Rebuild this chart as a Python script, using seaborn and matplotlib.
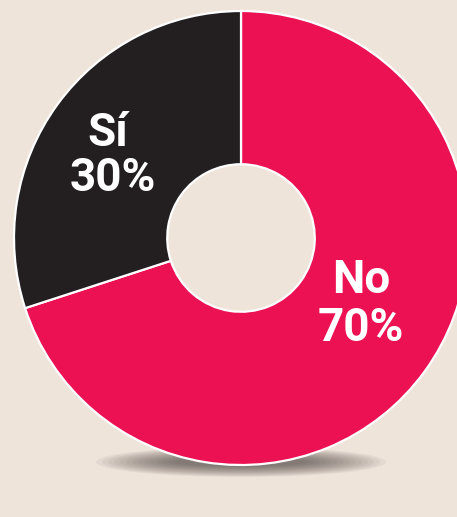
import matplotlib.pyplot as plt
import matplotlib.patches as mpatches
import seaborn as sns

# data
labels = ["No", "Sí"]
shares = [70, 30]
colors = ["#EC1153", "#231F20"]
bg = "#EFE4DA"

sns.set_theme(style="white")
plt.rcParams['font.family'] = ['Roboto', 'DejaVu Sans']

W, H = 457, 517
fig = plt.figure(figsize=(W / 100, H / 100), dpi=100, facecolor=bg)
ax = fig.add_axes([0, 0, 1, 1])
ax.set_facecolor(bg)
ax.set_xlim(0, W)
ax.set_ylim(0, H)
ax.set_aspect("equal")
ax.axis("off")

cx, cy, r = 241, H - 238, 227

# soft shadow under the ring
for i in range(14):
    ax.add_patch(mpatches.Ellipse((cx, H - 462), 290 - i * 12, 30 - i * 1.6,
                                  color="#3a3430", alpha=0.06, lw=0, zorder=1))

wedges, _ = ax.pie(shares, colors=colors, startangle=90, counterclock=False,
                   center=(cx, cy), radius=r, frame=True,
                   wedgeprops=dict(width=r * 0.675, edgecolor="white", linewidth=1.6))
for w in wedges:
    w.set_zorder(2)
ax.set_xlim(0, W)
ax.set_ylim(0, H)
ax.axis("off")

txt = dict(color="white", fontweight="bold", fontsize=33, ha="center", va="center", zorder=3)
ax.text(108, H - 133, labels[1], **txt)
ax.text(113, H - 178, f"{shares[1]}%", **txt)
ax.text(361, H - 280, labels[0], **txt)
ax.text(361, H - 328, f"{shares[0]}%", **txt)

fig.savefig("out.png", dpi=100, facecolor=bg)
